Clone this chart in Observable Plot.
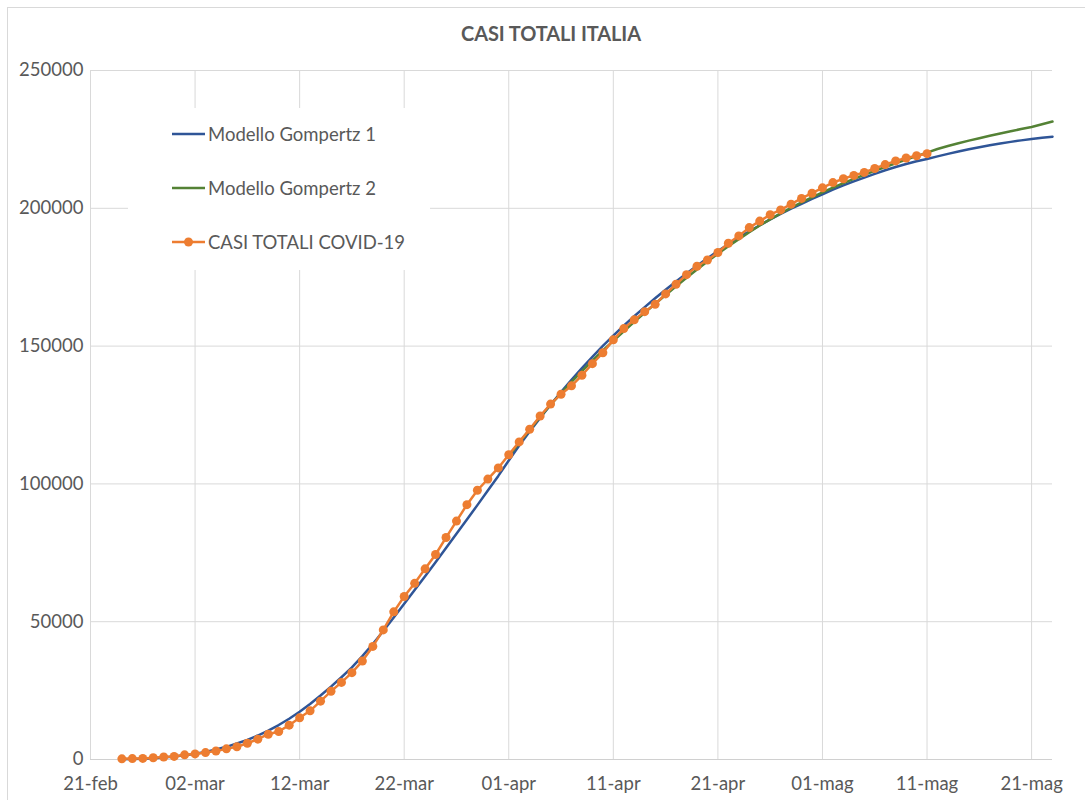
<!DOCTYPE html>
<html>
<head>
<meta charset="utf-8">
<script src="https://cdn.jsdelivr.net/npm/d3@7"></script>
<script src="https://cdn.jsdelivr.net/npm/@observablehq/plot@0.6"></script>
<style>
  html, body { margin: 0; padding: 0; background: #fff; }
  body { width: 1085px; height: 800px; position: relative; overflow: hidden; font-family: Lato, "Open Sans", sans-serif; }
  #frame { position: absolute; left: 7px; top: 7px; width: 1200px; height: 900px; border-left: 1px solid #d9d9d9; border-top: 1px solid #d9d9d9; pointer-events: none; }
  #title { height: 48px; position: relative; }
  #title span { position: absolute; left: 551px; top: 33px; transform: translate(-50%, -50%); font-weight: bold; font-size: 20px; color: #595959; white-space: nowrap; letter-spacing: -0.1px; }
  #legend { position: absolute; left: 128px; top: 108px; width: 302px; height: 162px; background: #fff; }
  .item { position: absolute; left: 44px; height: 24px; display: flex; align-items: center; font-size: 18.5px; color: #595959; white-space: nowrap; }
  .item svg { margin-right: 3px; }
</style>
</head>
<body>
<div id="title"><span>CASI TOTALI ITALIA</span></div>
<div id="chart"></div>
<div id="legend"></div>
<div id="frame"></div>
<script>
// ---- data ----
const tickDates = ["2020-02-21","2020-03-02","2020-03-12","2020-03-22","2020-04-01","2020-04-11","2020-04-21","2020-05-01","2020-05-11","2020-05-21"];
const tickLabels = ["21-feb","02-mar","12-mar","22-mar","01-apr","11-apr","21-apr","01-mag","11-mag","21-mag"];
const yTicks = [0, 50000, 100000, 150000, 200000, 250000];
const xDomain = ["2020-02-21", "2020-05-23"];

const seriesNames = ["Modello Gompertz 1", "Modello Gompertz 2", "CASI TOTALI COVID-19"];
const seriesColors = ["#2F5597", "#548235", "#ED7D31"];

// CASI TOTALI COVID-19, daily from 24-feb
const casiStart = "2020-02-24";
const casiTotali = [229, 322, 400, 650, 888, 1128,
  1694, 2036, 2502, 3089, 3858, 4636, 5883, 7375, 9172, 10149, 12462, 15113, 17660, 21157, 24747, 27980,
  31506, 35713, 41035, 47021, 53578, 59138, 63927, 69176, 74386, 80539, 86498, 92472, 97689, 101739, 105792,
  110574, 115242, 119827, 124632, 128948, 132547, 135586, 139422, 143626, 147577, 152271, 156363, 159516, 162488,
  165155, 168941, 172434, 175925, 178972, 181228, 183957, 187327, 189973, 192994, 195351, 197675, 199414, 201505,
  203591, 205463,
  207428, 209328, 210717, 211938, 213013, 214457, 215858, 217185, 218268, 219070, 219814];

// Modello Gompertz 1, daily from 24-feb
const gomp1Start = "2020-02-24";
const gompertz1 = [110, 190, 310, 490, 740, 1070,
  1500, 2050, 2750, 3600, 4600, 5800, 7100, 8700, 10500, 12500, 14800, 17300, 20150, 23200, 26450, 29850,
  33400, 37500, 41900, 46600, 51500, 56500, 61500, 66500, 71600, 76700, 81900, 87100, 92300, 97600, 102900,
  108500, 113950, 119050, 123950, 128700, 133300, 137750, 142000, 146100, 150050, 153800, 157400, 160850, 164150,
  167350, 170450, 173450, 176350, 179150, 181850, 184450, 186950, 189350, 191650, 193850, 195950, 197950, 199850,
  201650, 203400,
  205100, 206750, 208300, 209750, 211150, 212500, 213800, 215000, 216100, 217050, 217900, 218850, 219750, 220600,
  221400, 222150, 222850, 223500, 224100, 224650, 225150, 225600, 226000];

// Modello Gompertz 2, daily from 01-apr
const gomp2Start = "2020-04-01";
const gompertz2 = [110000, 114900, 119700, 124300, 128700, 132900, 137000, 140950, 144750, 148400, 151900,
  155400, 158800, 162100, 165350, 168550, 171700, 174800, 177800, 180700, 183500, 186200, 188800, 191300, 193750,
  196000, 198150, 200200, 202150, 204000,
  205800, 207500, 209100, 210650, 212150, 213600, 215000, 216350, 217650, 218950, 220200, 221500, 222600, 223600,
  224550, 225450, 226300, 227150, 227950, 228750, 229500, 230500, 231500];

// ---- build tables ----
const day = 24 * 3600 * 1000;
const toRows = (start, values) => values.map((v, i) => ({date: new Date(new Date(start).getTime() + i * day), value: v}));
const casiRows = toRows(casiStart, casiTotali);
const g1Rows = toRows(gomp1Start, gompertz1);
const g2Rows = toRows(gomp2Start, gompertz2);
const tickDateObjs = tickDates.map(d => new Date(d));
const labelOf = d => { const i = tickDateObjs.findIndex(t => +t === +d); return i >= 0 ? tickLabels[i] : ""; };

const chart = Plot.plot({
  width: 1085,
  height: 752,
  marginLeft: 90,
  marginRight: 33,
  marginTop: 22,
  marginBottom: 41,
  style: {fontFamily: "Lato, 'Open Sans', sans-serif", fontSize: "18.5px", color: "#595959", background: "white", overflow: "visible"},
  x: {type: "utc", domain: xDomain.map(d => new Date(d)), ticks: tickDateObjs, tickFormat: labelOf, tickSize: 0, tickPadding: 17, label: null},
  y: {domain: [0, 250000], ticks: yTicks, tickFormat: d => String(d), tickSize: 0, tickPadding: 7, label: null},
  marks: [
    Plot.gridX(tickDateObjs, {stroke: "#d9d9d9", strokeOpacity: 1, strokeWidth: 1}),
    Plot.gridY(yTicks, {stroke: "#d9d9d9", strokeOpacity: 1, strokeWidth: 1}),
    Plot.ruleY([0], {stroke: "#d0d0d0", strokeWidth: 1}),
    Plot.line(g1Rows, {x: "date", y: "value", stroke: seriesColors[0], strokeWidth: 2.5}),
    Plot.line(g2Rows, {x: "date", y: "value", stroke: seriesColors[1], strokeWidth: 2.5}),
    Plot.line(casiRows, {x: "date", y: "value", stroke: seriesColors[2], strokeWidth: 2.5}),
    Plot.dot(casiRows, {x: "date", y: "value", r: 4.5, fill: seriesColors[2], stroke: "none"})
  ]
});
document.getElementById("chart").appendChild(chart);

// ---- legend ----
const legend = document.getElementById("legend");
const rowsY = [14, 68, 122];
seriesNames.forEach((name, i) => {
  const item = document.createElement("div");
  item.className = "item";
  item.style.top = rowsY[i] + "px";
  const marker = i === 2 ? `<circle cx="16.5" cy="12" r="4.5" fill="${seriesColors[i]}"/>` : "";
  item.innerHTML = `<svg width="33" height="24"><line x1="0" x2="33" y1="12" y2="12" stroke="${seriesColors[i]}" stroke-width="2.5"/>${marker}</svg><span>${name}</span>`;
  legend.appendChild(item);
});
</script>
</body>
</html>
